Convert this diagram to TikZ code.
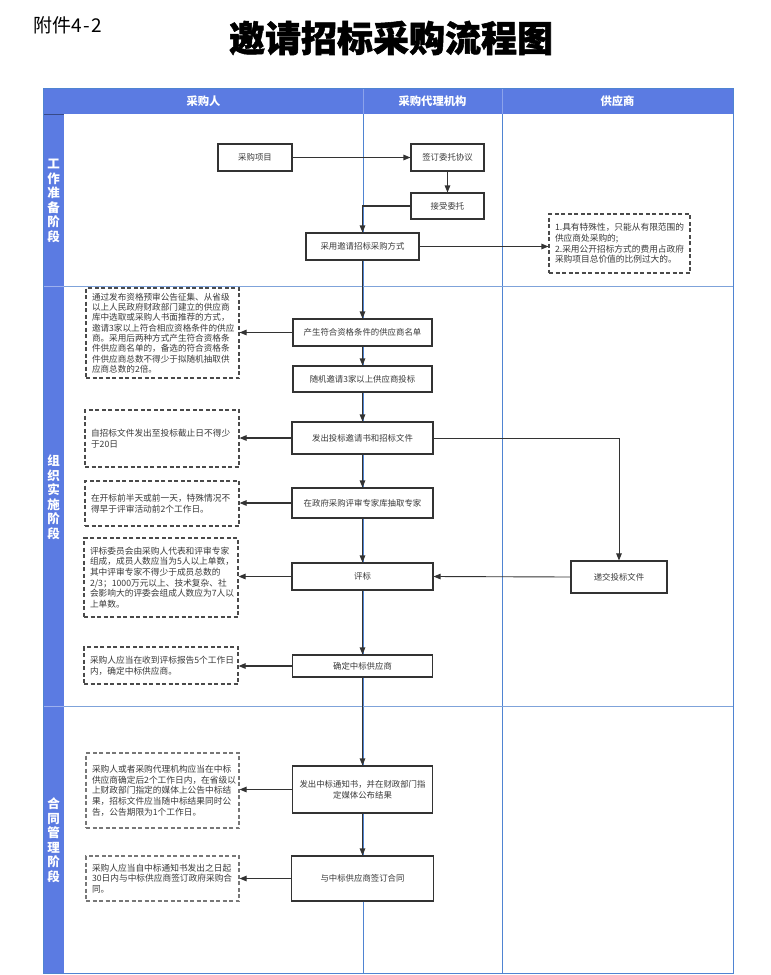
\documentclass[tikz,border=0pt]{standalone}
\usepackage{fontspec}
\setmainfont{Noto Sans CJK SC}
\newfontfamily\titlefont{Noto Sans CJK SC}[BoldFeatures={FakeBold=1.5}]
\usetikzlibrary{arrows.meta}
\newcommand\tightlns{\lineskiplimit=-20pt\relax\lineskip=0pt\relax}
\definecolor{hdr}{HTML}{5B7BE2}
\definecolor{laneline}{HTML}{7FA3DA}
\definecolor{colline}{HTML}{4F84D2}
\definecolor{boxc}{HTML}{333333}
\definecolor{notec}{HTML}{4A4A4A}
\definecolor{notec2}{HTML}{777777}
\definecolor{txt}{HTML}{3A3A3A}
\definecolor{linec}{HTML}{333333}
\tikzset{
  box/.style={draw=boxc, line width=1.1pt, fill=white, text=txt,
    font=\fontsize{8.4}{10.8}\selectfont\tightlns, align=center, inner sep=0pt},
  note/.style={draw=notec, dash pattern=on 4pt off 2.5pt, line width=1.1pt, fill=white,
    text=txt, font=\fontsize{8.7}{10.7}\selectfont\tightlns,
    align=left, inner xsep=6pt, inner ysep=0pt},
  notelight/.style={note, draw=notec2},
  conn/.style={draw=linec, line width=1.1pt, -{Triangle[length=7pt,width=5.5pt]}},
  thinconn/.style={draw=linec, line width=0.9pt, -{Triangle[length=7pt,width=5.5pt]}},
  hdrtext/.style={text=white, font=\fontsize{11.3}{12}\selectfont\bfseries},
  lanetext/.style={text=white, font=\fontsize{12.5}{14.5}\selectfont\bfseries\tightlns, align=center, inner sep=0pt},
}
\begin{document}
\begin{tikzpicture}[x=1pt,y=-1pt]
\useasboundingbox (0,0) rectangle (771,975);
\fill[white] (0,0) rectangle (771,975);

% titles
\node[anchor=west, inner sep=0pt, font=\fontsize{19}{19}\selectfont] (att) at (33,25) {附件4\kern1.5pt-\kern1.5pt2};
\node[inner sep=0pt, font=\titlefont\bfseries\fontsize{36}{36}\selectfont] (title) at (391,38) {邀请招标采购流程图};

% table frame
\fill[hdr] (43,88) rectangle (733,114);
\fill[hdr] (43,114) rectangle (64,973);
\draw[colline, line width=0.8pt] (363,114) -- (363,973);
\draw[colline, line width=0.8pt] (502,114) -- (502,973);
\draw[hdr!70!white, line width=0.6pt] (363,88) -- (363,114);
\draw[hdr!70!white, line width=0.6pt] (502,88) -- (502,114);
\draw[laneline, line width=0.9pt] (64,286) -- (733,286);
\draw[laneline, line width=0.9pt] (64,706) -- (733,706);
\draw[hdr!60!black, line width=0.6pt] (43,114) -- (64,114);
\draw[hdr!60!white, line width=0.6pt] (43,286) -- (64,286);
\draw[hdr!60!white, line width=0.6pt] (43,706) -- (64,706);
\draw[colline, line width=0.9pt] (43,88) rectangle (733,973);

% header text
\node[hdrtext] (h1) at (203.5,101) {采购人};
\node[hdrtext] (h2) at (432.5,101) {采购代理机构};
\node[hdrtext] (h3) at (617.5,101) {供应商};

% lane labels
\node[lanetext] (l1) at (53.5,201) {工\\作\\准\\备\\阶\\段};
\node[lanetext] (l2) at (53.5,497) {组\\织\\实\\施\\阶\\段};
\node[lanetext] (l3) at (53.5,840) {合\\同\\管\\理\\阶\\段};

% process boxes
\node[box, minimum width=74pt, minimum height=27pt] (proj) at (255,157.5) {采购项目};
\node[box, minimum width=73pt, minimum height=27pt] (sign) at (447.5,157.5) {签订委托协议};
\node[box, minimum width=73pt, minimum height=26pt] (accept) at (447.5,206) {接受委托};
\node[box, minimum width=113pt, minimum height=27pt] (adopt) at (362.5,246.5) {采用邀请招标采购方式};
\node[box, minimum width=139pt, minimum height=27pt] (list) at (362.5,332.5) {产生符合资格条件的供应商名单};
\node[box, minimum width=139pt, minimum height=26pt] (rand) at (362.5,379) {随机邀请3家以上供应商投标};
\node[box, minimum width=141pt, minimum height=32pt] (issue) at (362.5,438) {发出投标邀请书和招标文件};
\node[box, minimum width=141pt, minimum height=30pt] (expert) at (362.5,503) {在政府采购评审专家库抽取专家};
\node[box, minimum width=141pt, minimum height=27pt] (eval) at (362.5,576.5) {评标};
\node[box, minimum width=140pt, minimum height=22pt] (decide) at (362.5,666) {确定中标供应商};
\node[box, minimum width=140pt, minimum height=47pt] (notice) at (362.5,789.5) {发出中标通知书，并在财政部门指\\定媒体公布结果};
\node[box, minimum width=142pt, minimum height=45pt] (contract) at (362.5,878.5) {与中标供应商签订合同};
\node[box, minimum width=96pt, minimum height=32pt] (submit) at (619,577) {递交投标文件};

% notes
\node[note, text width=129pt, minimum height=59pt] (n0) at (619.5,243.5)
  {1.具有特殊性，只能从有限范围的\\供应商处采购的;\\2.采用公开招标方式的费用占政府\\采购项目总价值的比例过大的。};
\node[note, text width=141pt, minimum height=90pt, font=\fontsize{8.6}{10.3}\selectfont\tightlns] (n1) at (162.5,333)
  {通过发布资格预审公告征集、从省级\\以上人民政府财政部门建立的供应商\\库中选取或采购人书面推荐的方式，\\邀请3家以上符合相应资格条件的供应\\商。采用后两种方式产生符合资格条\\件供应商名单的，备选的符合资格条\\件供应商总数不得少于拟随机抽取供\\应商总数的2倍。};
\node[note, text width=142pt, minimum height=57pt] (n2) at (162,438.5)
  {自招标文件发出至投标截止日不得少\\于20日};
\node[note, text width=142pt, minimum height=45pt] (n3) at (162,503.5)
  {在开标前半天或前一天，特殊情况不\\得早于评审活动前2个工作日。};
\node[note, text width=142pt, minimum height=79pt] (n4) at (161,577.5)
  {评标委员会由采购人代表和评审专家\\组成，成员人数应当为5人以上单数，\\其中评审专家不得少于成员总数的\\2/3；1000万元以上、技术复杂、社\\会影响大的评委会组成人数应为7人以\\上单数。};
\node[note, text width=142pt, minimum height=37pt] (n5) at (161,665.5)
  {采购人应当在收到评标报告5个工作日\\内，确定中标供应商。};
\node[notelight, text width=141pt, minimum height=75pt] (n6) at (162.5,790.5)
  {采购人或者采购代理机构应当在中标\\供应商确定后2个工作日内，在省级以\\上财政部门指定的媒体上公告中标结\\果，招标文件应当随中标结果同时公\\告，公告期限为1个工作日。};
\node[notelight, text width=141pt, minimum height=45pt] (n7) at (162.5,878.5)
  {采购人应当自中标通知书发出之日起\\30日内与中标供应商签订政府采购合\\同。};

% connectors
\draw[conn] (proj.east) -- (sign.west);
\draw[conn] (sign.south) -- (accept.north);
\draw[conn] (accept.west) -| (adopt.north);
\draw[conn] (adopt.east) -- (adopt.east -| n0.west);
\draw[conn] (adopt.south) -- (list.north);
\draw[conn] (list.west) -- (list.west -| n1.east);
\draw[conn] (list.south) -- (rand.north);
\draw[conn] (rand.south) -- (issue.north);
\draw[conn] (issue.west) -- (issue.west -| n2.east);
\draw[thinconn] (issue.east) -| (submit.north);
\draw[conn] (issue.south) -- (expert.north);
\draw[conn] (expert.west) -- (expert.west -| n3.east);
\draw[conn] (expert.south) -- (eval.north);
\draw[thinconn] (submit.west) -- (eval.east);
\draw[conn] (eval.west) -- (eval.west -| n4.east);
\draw[conn] (eval.south) -- (decide.north);
\draw[conn] (decide.west) -- (decide.west -| n5.east);
\draw[conn] (decide.south) -- (notice.north);
\draw[conn] (notice.west) -- (notice.west -| n6.east);
\draw[conn] (notice.south) -- (contract.north);
\draw[conn] (contract.west) -- (contract.west -| n7.east);
\end{tikzpicture}
\end{document}
